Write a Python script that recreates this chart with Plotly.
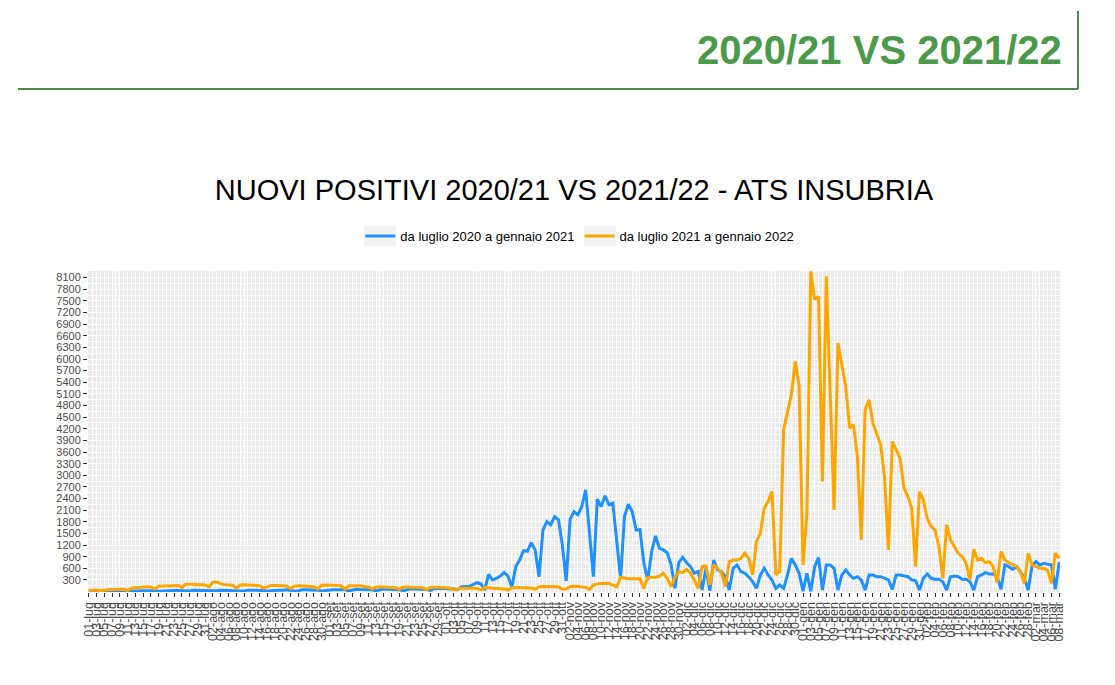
import plotly.graph_objects as go

# ---- data ----
months = ["lug", "ago", "set", "ott", "nov", "dic", "gen", "feb", "mar"]
month_days = [31, 31, 30, 31, 30, 31, 31, 28, 8]
dates = [f"{d:02d}-{m}" for m, n in zip(months, month_days) for d in range(1, n + 1)]

series_2020_21 = [
    20, 25, 18, 22, 8, 15, 28, 24, 20, 26,
    18, 8, 14, 30, 25, 22, 28, 20, 10, 15,
    32, 28, 30, 26, 22, 10, 18, 35, 30, 28,
    32, 30, 12, 20, 35, 32, 30, 28, 25, 12,
    18, 38, 35, 30, 40, 28, 14, 22, 42, 38,
    35, 45, 30, 15, 25, 48, 45, 40, 50, 38,
    18, 30, 55, 50, 48, 52, 45, 20, 35, 60,
    55, 50, 58, 48, 22, 40, 65, 60, 55, 62,
    50, 25, 45, 70, 65, 60, 68, 55, 30, 75,
    85, 90, 80, 70, 75, 50, 127, 130, 135, 180,
    230, 200, 40, 447, 300, 340, 400, 490, 400, 110,
    645, 815, 1057, 1040, 1263, 1075, 385, 1590, 1806, 1720,
    1935, 1850, 1200, 274, 1867, 2064, 1980, 2193, 2624, 1500,
    385, 2384, 2193, 2470, 2237, 2280, 1300, 343, 1935, 2255,
    2064, 1590, 1600, 730, 300, 1030, 1436, 1118, 1075, 1005,
    700, 85, 747, 886, 747, 645, 473, 520, 41, 601,
    20, 816, 558, 515, 385, 41, 601, 687, 515, 472,
    385, 256, 85, 429, 601, 429, 300, 85, 170, 85,
    429, 860, 687, 472, 10, 472, 10, 645, 876, 41,
    687, 687, 600, 41, 429, 558, 429, 343, 385, 300,
    41, 429, 429, 385, 385, 343, 300, 59, 429, 429,
    400, 385, 300, 280, 41, 343, 455, 343, 318, 318,
    256, 41, 385, 403, 385, 318, 318, 256, 41, 385,
    429, 488, 455, 455, 385, 59, 687, 644, 576, 644,
    514, 343, 41, 661, 773, 687, 731, 714, 687, 59,
    760,
]

series_2021_22 = [
    30, 35, 40, 25, 45, 50, 55, 60, 65, 60,
    30, 90, 100, 110, 120, 125, 120, 70, 140, 145,
    150, 150, 155, 160, 110, 195, 190, 185, 180, 180,
    170, 120, 245, 250, 200, 180, 175, 165, 90, 170,
    175, 170, 165, 160, 150, 90, 120, 160, 155, 150,
    150, 145, 80, 140, 150, 145, 140, 130, 125, 70,
    165, 170, 170, 165, 160, 150, 60, 150, 155, 150,
    145, 140, 120, 70, 120, 125, 120, 115, 110, 100,
    60, 120, 120, 115, 110, 105, 100, 55, 110, 120,
    115, 110, 100, 95, 50, 70, 85, 85, 90, 85,
    80, 45, 110, 90, 85, 80, 75, 70, 40, 100,
    105, 100, 100, 95, 95, 60, 127, 130, 125, 127,
    120, 127, 60, 70, 127, 140, 130, 120, 110, 60,
    170, 200, 215, 215, 210, 170, 127, 370, 340, 330,
    330, 330, 330, 85, 370, 370, 370, 400, 473, 340,
    127, 370, 515, 490, 576, 473, 300, 85, 645, 660,
    170, 690, 600, 480, 127, 775, 815, 815, 860, 990,
    860, 430, 1290, 1505, 2150, 2322, 2580, 430, 515, 4175,
    4605, 5080, 5940, 5293, 690, 2022, 8263, 7532, 7618, 2840,
    8134, 4950, 2108, 6414, 5897, 5293, 4218, 4304, 3485, 1333,
    4691, 4950, 4347, 4090, 3787, 2968, 1075, 3872, 3658, 3443,
    2668, 2452, 2151, 644, 2581, 2366, 1893, 1677, 1591, 1160,
    343, 1720, 1333, 1160, 989, 902, 731, 300, 1093, 816,
    860, 747, 773, 644, 230, 1031, 816, 747, 687, 644,
    514, 214, 989, 687, 644, 601, 601, 558, 214, 989,
    860,
]

series_names = ["da luglio 2020 a gennaio 2021", "da luglio 2021 a gennaio 2022"]
series_colors = ["#1E90FF", "#FFA500"]
y_ticks = list(range(300, 8101, 300))

# ---- figure ----
x_idx = list(range(len(dates)))
fig = go.Figure()
for name, vals, col in zip(series_names, [series_2020_21, series_2021_22], series_colors):
    fig.add_trace(go.Scatter(
        x=x_idx, y=vals, mode="lines", name=name,
        line=dict(color=col, width=3),
        hoverinfo="x+y",
    ))

FONT = "Liberation Sans, Arial, sans-serif"
fig.update_layout(
    width=1115, height=685,
    margin=dict(l=88, r=55, t=271, b=93),
    paper_bgcolor="white",
    plot_bgcolor="#EBEBEB",
    font=dict(family=FONT, color="#4D4D4D"),
    title=dict(
        text="NUOVI POSITIVI 2020/21 VS 2021/22 - ATS INSUBRIA",
        x=574 / 1115, xanchor="center", xref="container",
        y=1 - 190 / 685, yanchor="middle", yref="container",
        font=dict(family=FONT, size=29, color="black"),
    ),
    showlegend=True,
    legend=dict(
        orientation="h", x=0.506, xanchor="center",
        y=(592 - 236) / 321, yanchor="middle",
        font=dict(family=FONT, size=13, color="black"),
        bgcolor="rgba(0,0,0,0)",
    ),
    xaxis=dict(
        range=[-0.2, len(dates) - 0.8],
        tickmode="array",
        tickvals=x_idx[::2],
        ticktext=dates[::2],
        tickangle=-90,
        tickfont=dict(family=FONT, size=12.5, color="#4D4D4D"),
        ticks="outside", ticklen=4, tickcolor="#333333", tickwidth=1,
        showgrid=True, gridcolor="white", gridwidth=1,
        minor=dict(dtick=1, tick0=0, showgrid=True, gridcolor="white", gridwidth=0.5),
        zeroline=False, showline=False,
    ),
    yaxis=dict(
        range=[-10, 8270],
        tickmode="array",
        tickvals=y_ticks,
        ticktext=[str(v) for v in y_ticks],
        tickfont=dict(family=FONT, size=11, color="#4D4D4D"),
        ticks="outside", ticklen=4, tickcolor="#333333", tickwidth=1,
        showgrid=True, gridcolor="white", gridwidth=1,
        minor=dict(dtick=150, tick0=0, showgrid=True, gridcolor="white", gridwidth=0.5),
        zeroline=False, showline=False,
    ),
)

# helpers: pixel -> paper coordinates
px = lambda X: (X - 88) / 972.0
py = lambda Y: (592 - Y) / 321.0

# legend key backgrounds (ggplot style)
for x0, x1 in [(364, 396), (584, 616)]:
    fig.add_shape(type="rect", xref="paper", yref="paper",
                  x0=px(x0), x1=px(x1), y0=py(246), y1=py(226),
                  fillcolor="#F2F2F2", line=dict(width=0), layer="below")

# slide header
fig.add_annotation(
    text="<b>2020/21 VS 2021/22</b>", xref="paper", yref="paper",
    x=px(1064), y=py(50), xanchor="right", yanchor="middle", showarrow=False,
    font=dict(family=FONT, size=40, color="#4A9A4A"),
)
fig.add_shape(type="line", xref="paper", yref="paper",
              x0=px(18), x1=px(1078), y0=py(89), y1=py(89),
              line=dict(color="#4F8A4F", width=2))
fig.add_shape(type="line", xref="paper", yref="paper",
              x0=px(1078), x1=px(1078), y0=py(89), y1=py(11),
              line=dict(color="#4F8A4F", width=2))

fig.write_html(
    "out.html",
    config={"displayModeBar": False},
    post_script="document.body.style.margin='0px';document.body.style.padding='0px';",
)
